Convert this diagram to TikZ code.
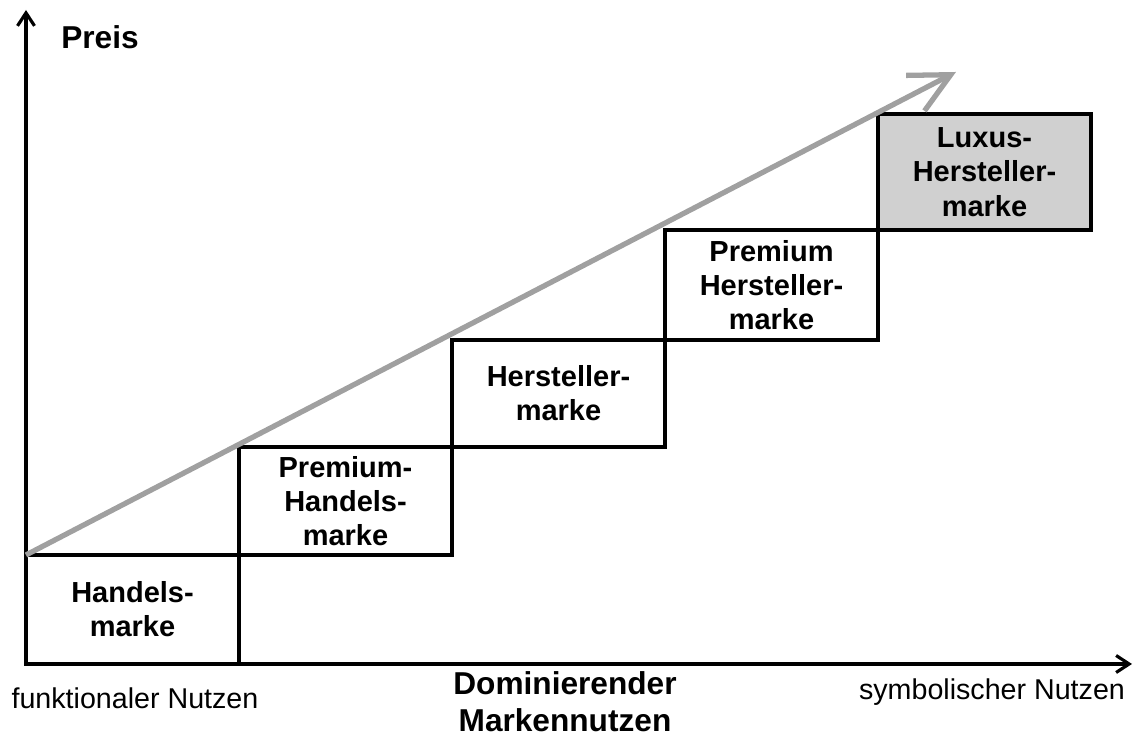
\documentclass[tikz,border=0pt]{standalone}
\usepackage{fontspec}
\setmainfont{Liberation Sans}
\usepackage{tikz}
\usetikzlibrary{arrows.meta,positioning}
\definecolor{trend}{RGB}{160,160,160}
\definecolor{luxus}{RGB}{208,208,208}
\tikzset{
  brand/.style={draw=black,line width=2pt,minimum width=4.26cm,minimum height=2.18cm,inner sep=0pt,outer sep=0pt,align=center,font=\fontsize{16.5}{19.5}\selectfont\bfseries},
  lux/.style={brand,fill=luxus},
  axis/.style={-{Straight Barb[length=2.6mm,width=3.4mm,line width=1.8pt]},black,line width=2pt},
  rise/.style={-{Straight Barb[length=8mm,width=8mm]},trend,line width=3pt},
  endlabel/.style={font=\fontsize{16.3}{19.5}\selectfont},
  title/.style={font=\fontsize{18}{21}\selectfont\bfseries,align=center},
}
\begin{document}
\begin{tikzpicture}
\useasboundingbox (-0.52,-1.48) rectangle (22.24,13.28);
\coordinate (o) at (0,0);
\coordinate (ytop) at (0,13.08);
\coordinate (xend) at (22.12,0);
\coordinate (tip) at (18.6,11.84);
\node[brand, anchor=south west] (hm) at (o) {Handels-\\marke};
\node[brand, minimum height=2.16cm, above right=0pt and 0pt of hm] (phm) {Premium-\\Handels-\\marke};
\node[brand, minimum height=2.14cm, above right=0pt and 0pt of phm] (hsm) {Hersteller-\\marke};
\node[brand, minimum height=2.2cm, above right=0pt and 0pt of hsm] (phsm) {Premium\\Hersteller-\\marke};
\node[lux, minimum height=2.32cm, above right=0pt and 0pt of phsm] (lhsm) {Luxus-\\Hersteller-\\marke};
\draw[axis] (o) -- (ytop);
\draw[axis] (o) -- (xend);
\draw[rise] (hm.north west) -- (tip);
\node[title] (preis) at (1.48,12.54) {Preis};
\node[endlabel] (funk) at (2.18,-0.68) {funktionaler Nutzen};
\node[endlabel] (symb) at (19.32,-0.56) {symbolischer Nutzen};
\node[title] (dom) at (10.78,-0.76) {Dominierender\\Markennutzen};
\end{tikzpicture}
\end{document}
